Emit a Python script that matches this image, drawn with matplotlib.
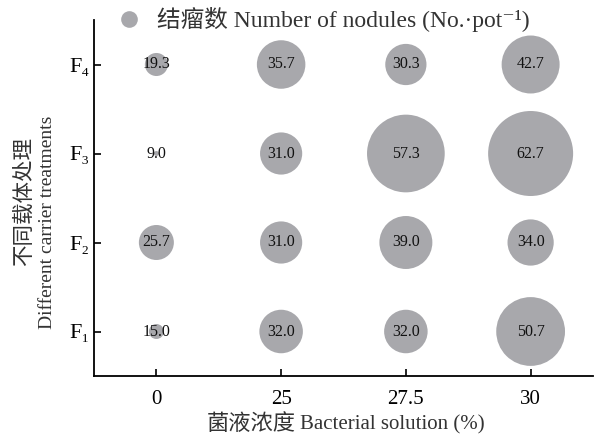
import matplotlib
matplotlib.use("Agg")
import matplotlib.pyplot as plt
from matplotlib.lines import Line2D
import numpy as np

concentrations = ["0", "25", "27.5", "30"]
treatments = ["F₁", "F₂", "F₃", "F₄"]
# rows: F1..F4, columns: 0, 25, 27.5, 30
nodules = {
    "F₁": [15.0, 32.0, 32.0, 50.7],
    "F₂": [25.7, 31.0, 39.0, 34.0],
    "F₃": [9.0, 31.0, 57.3, 62.7],
    "F₄": [19.3, 35.7, 30.3, 42.7],
}

FAM = ["Liberation Serif", "Noto Sans CJK SC", "DejaVu Serif"]
plt.rcParams["font.family"] = FAM

DPI = 100
W, H = 597, 437
fig = plt.figure(figsize=(W / DPI, H / DPI), dpi=DPI)
ax = fig.add_axes([94 / W, 1 - 376 / H, (593 - 94) / W, (376 - 20) / H])

color = "#a8a8ac"
# bubble size scale (value -> diameter in px), as used by the original chart
size_vals = [9.0, 15.0, 25.7, 62.7]
size_diam = [5, 15, 35, 85]

for yi, t in enumerate(treatments):
    for xi, v in enumerate(nodules[t]):
        d_px = np.interp(v, size_vals, size_diam)
        d_pt = d_px * 72 / DPI
        ax.scatter([xi], [yi], s=d_pt ** 2, color=color, edgecolors="none", zorder=2)
        ax.text(xi, yi, f"{v:.1f}", ha="center", va="center", fontsize=11.5,
                color="#111111", zorder=3)

ax.set_xlim(-0.5, 3.5)
ax.set_ylim(-0.5, 3.5)
ax.set_xticks(range(len(concentrations)))
ax.set_xticklabels(concentrations, fontsize=15)
ax.set_yticks(range(len(treatments)))
ax.set_yticklabels(treatments, fontsize=16)
ax.tick_params(axis="both", direction="in", length=5, width=1.2, colors="black")
ax.tick_params(axis="x", pad=10)
ax.tick_params(axis="y", pad=3)
for s in ["top", "right"]:
    ax.spines[s].set_visible(False)
for s in ["left", "bottom"]:
    ax.spines[s].set_linewidth(1.3)

lab_col = "#333333"
# x label: Chinese + English parts
fig.text(296 / W, 1 - 425 / H, "菌液浓度", ha="right", va="center", fontsize=16, color=lab_col)
fig.text(300 / W, 1 - 425 / H, "Bacterial solution (%)", ha="left", va="center", fontsize=15, color=lab_col)
# y label: two lines
fig.text(25 / W, 1 - 202 / H, "不同载体处理", ha="center", va="center", rotation=90,
         fontsize=15.5, color=lab_col)
fig.text(48 / W, 1 - 222 / H, "Different carrier treatments", ha="center", va="center", rotation=90,
         fontsize=14, color=lab_col)

handle = Line2D([], [], marker="o", linestyle="none", markersize=12,
                markerfacecolor=color, markeredgecolor="none")
leg = ax.legend([handle], ["结瘤数 Number of nodules (No.·pot⁻¹)"], loc="center left",
                bbox_to_anchor=(0.022, 1.0), frameon=False, fontsize=17,
                handletextpad=0.6, borderaxespad=0, handlelength=1.2)
for txt in leg.get_texts():
    txt.set_color(lab_col)

fig.savefig("out.png", dpi=DPI)
